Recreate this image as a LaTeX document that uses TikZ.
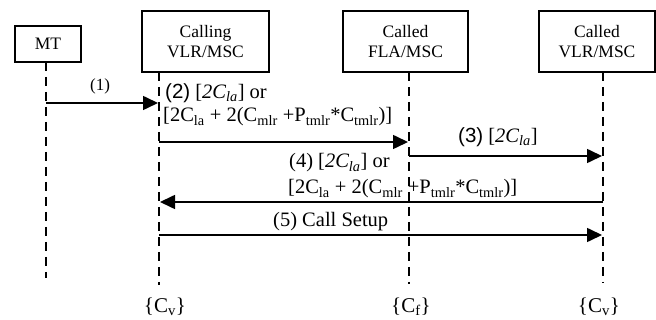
\documentclass[tikz,border=0pt]{standalone}
\usepackage{fontspec}
\setmainfont{Liberation Serif}
\newfontfamily\arialfont{Liberation Sans}
\usetikzlibrary{arrows.meta}
\tikzset{
  entity/.style={draw, line width=1.6pt, fill=white, align=center, inner sep=0pt,
    font=\fontsize{17.5}{19.5}\selectfont},
  lifeline/.style={line width=2.2pt, dash pattern=on 9pt off 6pt},
  msg/.style={line width=1.6pt, -{Triangle[length=15pt,width=14pt]}, shorten >=1pt},
  msglabel/.style={inner sep=0pt, font=\fontsize{20.5}{22}\selectfont, anchor=west},
  small/.style={inner sep=0pt, font=\fontsize{17}{19}\selectfont},
  cost/.style={inner sep=0pt, font=\fontsize{21}{23}\selectfont}
}
\newcommand{\sbs}[1]{\textsubscript{#1}}
\begin{document}
\begin{tikzpicture}[x=1pt,y=-1pt]
\useasboundingbox (0,0) rectangle (656,320);
% participants
\node[entity, minimum width=66pt, minimum height=36pt] (mt) at (48,44) {MT};
\node[entity, minimum width=127pt, minimum height=61pt] (calling) at (205.5,41.5) {Calling\\VLR/MSC};
\node[entity, minimum width=125pt, minimum height=61pt] (fla) at (405.5,41.5) {Called\\FLA/MSC};
\node[entity, minimum width=116pt, minimum height=61pt] (vlr) at (597,41.5) {Called\\VLR/MSC};
% lifeline ends
\coordinate (mtTop) at (46,62);    \coordinate (mtEnd) at (46,278);
\coordinate (caTop) at (159,72);   \coordinate (caEnd) at (159,285);
\coordinate (flTop) at (409,72);   \coordinate (flEnd) at (409,284);
\coordinate (vlTop) at (603,72);   \coordinate (vlEnd) at (603,283);
\draw[lifeline] (mtTop) -- (mtEnd);
\draw[lifeline] (caTop) -- (caEnd);
\draw[lifeline] (flTop) -- (flEnd);
\draw[lifeline] (vlTop) -- (vlEnd);
% message anchors on the lifelines
\coordinate (m1a) at (46,103);  \coordinate (m1b) at (159,103);
\coordinate (m2a) at (159,142); \coordinate (m2b) at (409,142);
\coordinate (m3a) at (409,156); \coordinate (m3b) at (603,156);
\coordinate (m4a) at (603,202); \coordinate (m4b) at (159,202);
\coordinate (m5a) at (159,235); \coordinate (m5b) at (603,235);
\draw[msg] (m1a) -- (m1b);
\draw[msg] (m2a) -- (m2b);
\draw[msg] (m3a) -- (m3b);
\draw[msg] (m4a) -- (m4b);
\draw[msg] (m5a) -- (m5b);
% message labels
\node[small] (l1) at (100,86) {(1)};
\node[msglabel] (l2a) at (165,93) {{\arialfont (2)} [\textit{2C\sbs{la}}] or};
\node[msglabel] (l2b) at (163,117) {[2C\sbs{la} + 2(C\sbs{mlr} +P\sbs{tmlr}*C\sbs{tmlr})]};
\node[msglabel] (l3) at (458,137) {{\arialfont (3)} [\textit{2C\sbs{la}}]};
\node[msglabel] (l4a) at (289,163) {(4) [\textit{2C\sbs{la}}] or};
\node[msglabel] (l4b) at (288,189) {[2C\sbs{la} + 2(C\sbs{mlr} +P\sbs{tmlr}*C\sbs{tmlr})]};
\node[msglabel] (l5) at (273,222) {(5) Call Setup};
% cost labels under the lifelines
\node[cost] (c1) at (165,307) {\{C\sbs{v}\}};
\node[cost] (c2) at (411,307) {\{C\sbs{f}\}};
\node[cost] (c3) at (599,307) {\{C\sbs{v}\}};
\end{tikzpicture}
\end{document}
